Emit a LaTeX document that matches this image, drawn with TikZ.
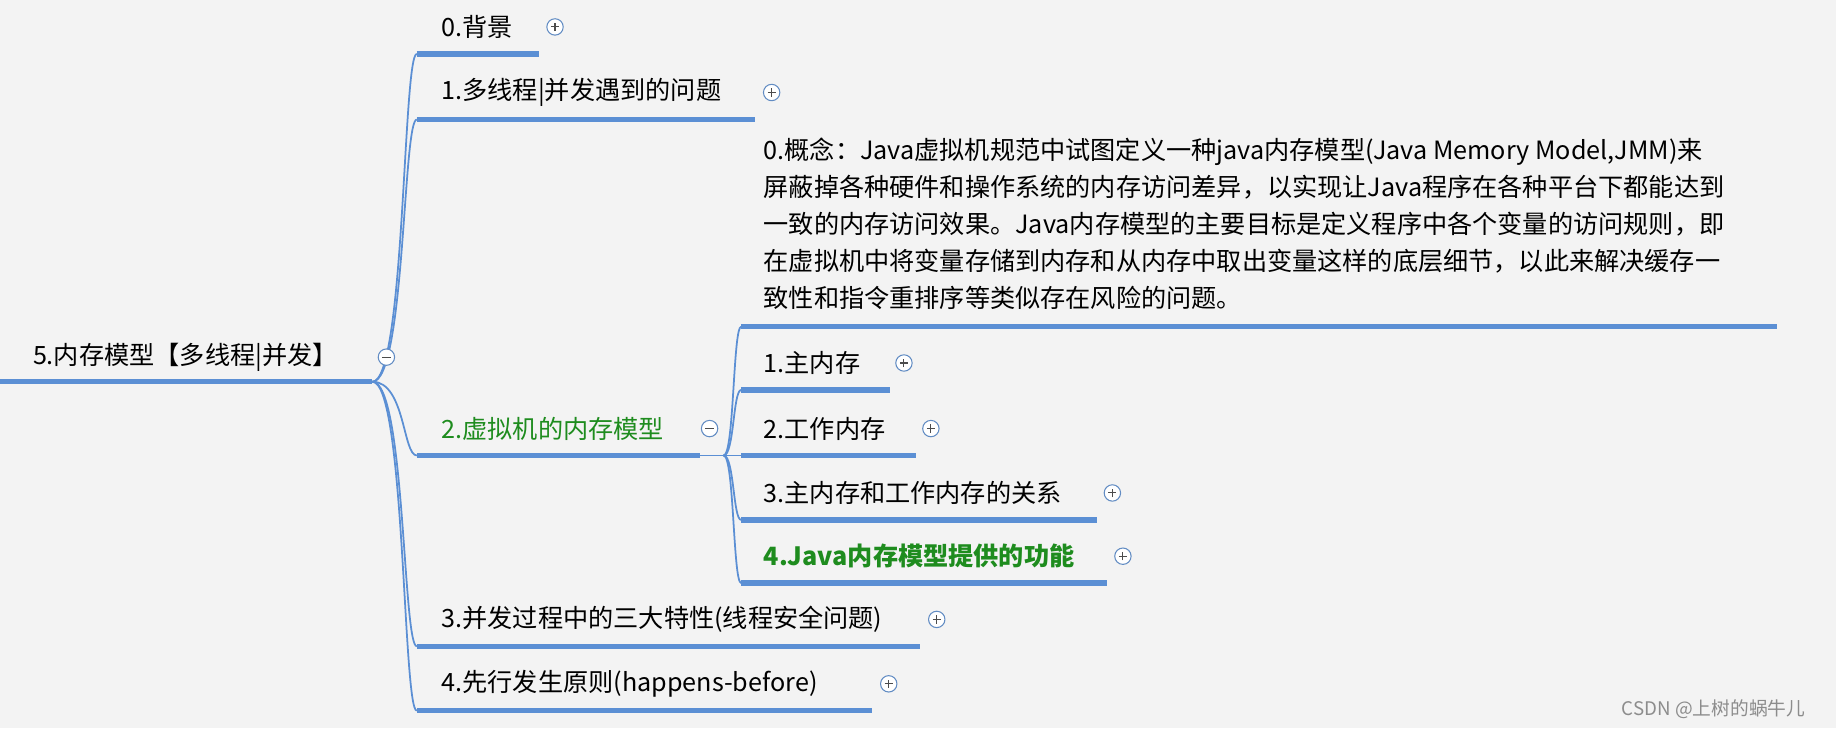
\documentclass[tikz,border=0pt]{standalone}
\usepackage{fontspec}
\setmainfont{Noto Sans CJK SC}
\definecolor{ln}{HTML}{5B8FD4}
\definecolor{gr}{HTML}{1E8C1E}
\definecolor{bg}{HTML}{F3F3F3}
\begin{document}
\begin{tikzpicture}[x=1pt,y=-1pt,
  lbl/.style={anchor=west,inner sep=0pt,font=\fontsize{21.5}{24}\selectfont},
  ul/.style={ln,line width=4.5pt},
  br/.style={ln,line width=1.5pt},
  pl/.style={circle,draw=ln!80!gray,fill=white,line width=0.9pt,minimum size=14pt,inner sep=0pt,
    path picture={\draw[black!70,line width=0.9pt] ([xshift=-3.5pt]path picture bounding box.center)--([xshift=3.5pt]path picture bounding box.center)
      ([yshift=-3.5pt]path picture bounding box.center)--([yshift=3.5pt]path picture bounding box.center);}},
  mi/.style={circle,draw=ln!80!gray,fill=white,line width=0.9pt,minimum size=14pt,inner sep=0pt,
    path picture={\draw[black!70,line width=0.9pt] ([xshift=-3.5pt]path picture bounding box.center)--([xshift=3.5pt]path picture bounding box.center);}}]
\fill[bg] (0,0) rectangle (1568,622);
\useasboundingbox (0,0) rectangle (1568,622);
% root
\node[lbl] (root) at (28,305) {5.内存模型【多线程|并发】};
\coordinate (r0) at (0,326); \coordinate (r1) at (318,326);
\draw[ul] (r0) -- (r1);
% level 1
\foreach \n/\y/\e/\t/\p in {a/46/460/0.背景/474, b/102/645/1.多线程|并发遇到的问题/659, d/552/786/3.并发过程中的三大特性(线程安全问题)/800, e/607/745/4.先行发生原则(happens-before)/759}{
  \coordinate (\n0) at (356,\y); \coordinate (\n1) at (\e,\y);
  \draw[br] (r1) .. controls (346,326) and (344,\y) .. (\n0);
  \draw[ul] (\n0) -- (\n1);
  \node[lbl] (\n t) at (377,\y-23) {\t};
  \node[pl] (\n p) at (\p,\y-23) {};
}
\coordinate (c0) at (356,389); \coordinate (c1) at (598,389);
\draw[br] (r1) .. controls (346,326) and (344,389) .. (c0);
\draw[ul] (c0) -- (c1);
\node[mi] (rm) at (330,305) {};
\node[lbl,text=gr] (ct) at (377,366) {2.虚拟机的内存模型};
\node[mi] (cm) at (606,366) {};
\coordinate (c2) at (618,389);
\draw[br] (c1) -- (c2);
% level 2
\coordinate (p0) at (633,279); \coordinate (p1) at (1518,279);
\draw[br] (c2) .. controls (627,389) and (626,279) .. (p0);
\draw[ul] (p0) -- (p1);
\node[lbl,anchor=north west,align=left,font=\fontsize{21.5}{31.5}\selectfont] (pt) at (652,118) {0.概念：Java虚拟机规范中试图定义一种java内存模型(Java Memory Model,JMM)来\\屏蔽掉各种硬件和操作系统的内存访问差异，以实现让Java程序在各种平台下都能达到\\一致的内存访问效果。Java内存模型的主要目标是定义程序中各个变量的访问规则，即\\在虚拟机中将变量存储到内存和从内存中取出变量这样的底层细节，以此来解决缓存一\\致性和指令重排序等类似存在风险的问题。};
\foreach \n/\y/\e/\t/\p in {s/333/760/1.主内存/772, t/389/782/2.工作内存/795, u/444/937/3.主内存和工作内存的关系/950}{
  \coordinate (\n0) at (633,\y); \coordinate (\n1) at (\e,\y);
  \draw[br] (c2) .. controls (627,389) and (626,\y) .. (\n0);
  \draw[ul] (\n0) -- (\n1);
  \node[lbl] (\n t) at (652,\y-23) {\t};
  \node[pl] (\n p) at (\p,\y-23) {};
}
\coordinate (v0) at (633,498); \coordinate (v1) at (945,498);
\draw[br] (c2) .. controls (627,389) and (626,498) .. (v0);
\draw[ul] (v0) -- (v1);
\node[lbl,text=gr,font=\fontsize{21.5}{24}\selectfont\bfseries] (vt) at (652,475) {4.Java内存模型提供的功能};
\node[pl] (vp) at (959,475) {};
\node[lbl,text=black!45,font=\fontsize{16}{18}\selectfont] (wm) at (1385,606) {CSDN @上树的蜗牛儿};
\end{tikzpicture}
\end{document}
